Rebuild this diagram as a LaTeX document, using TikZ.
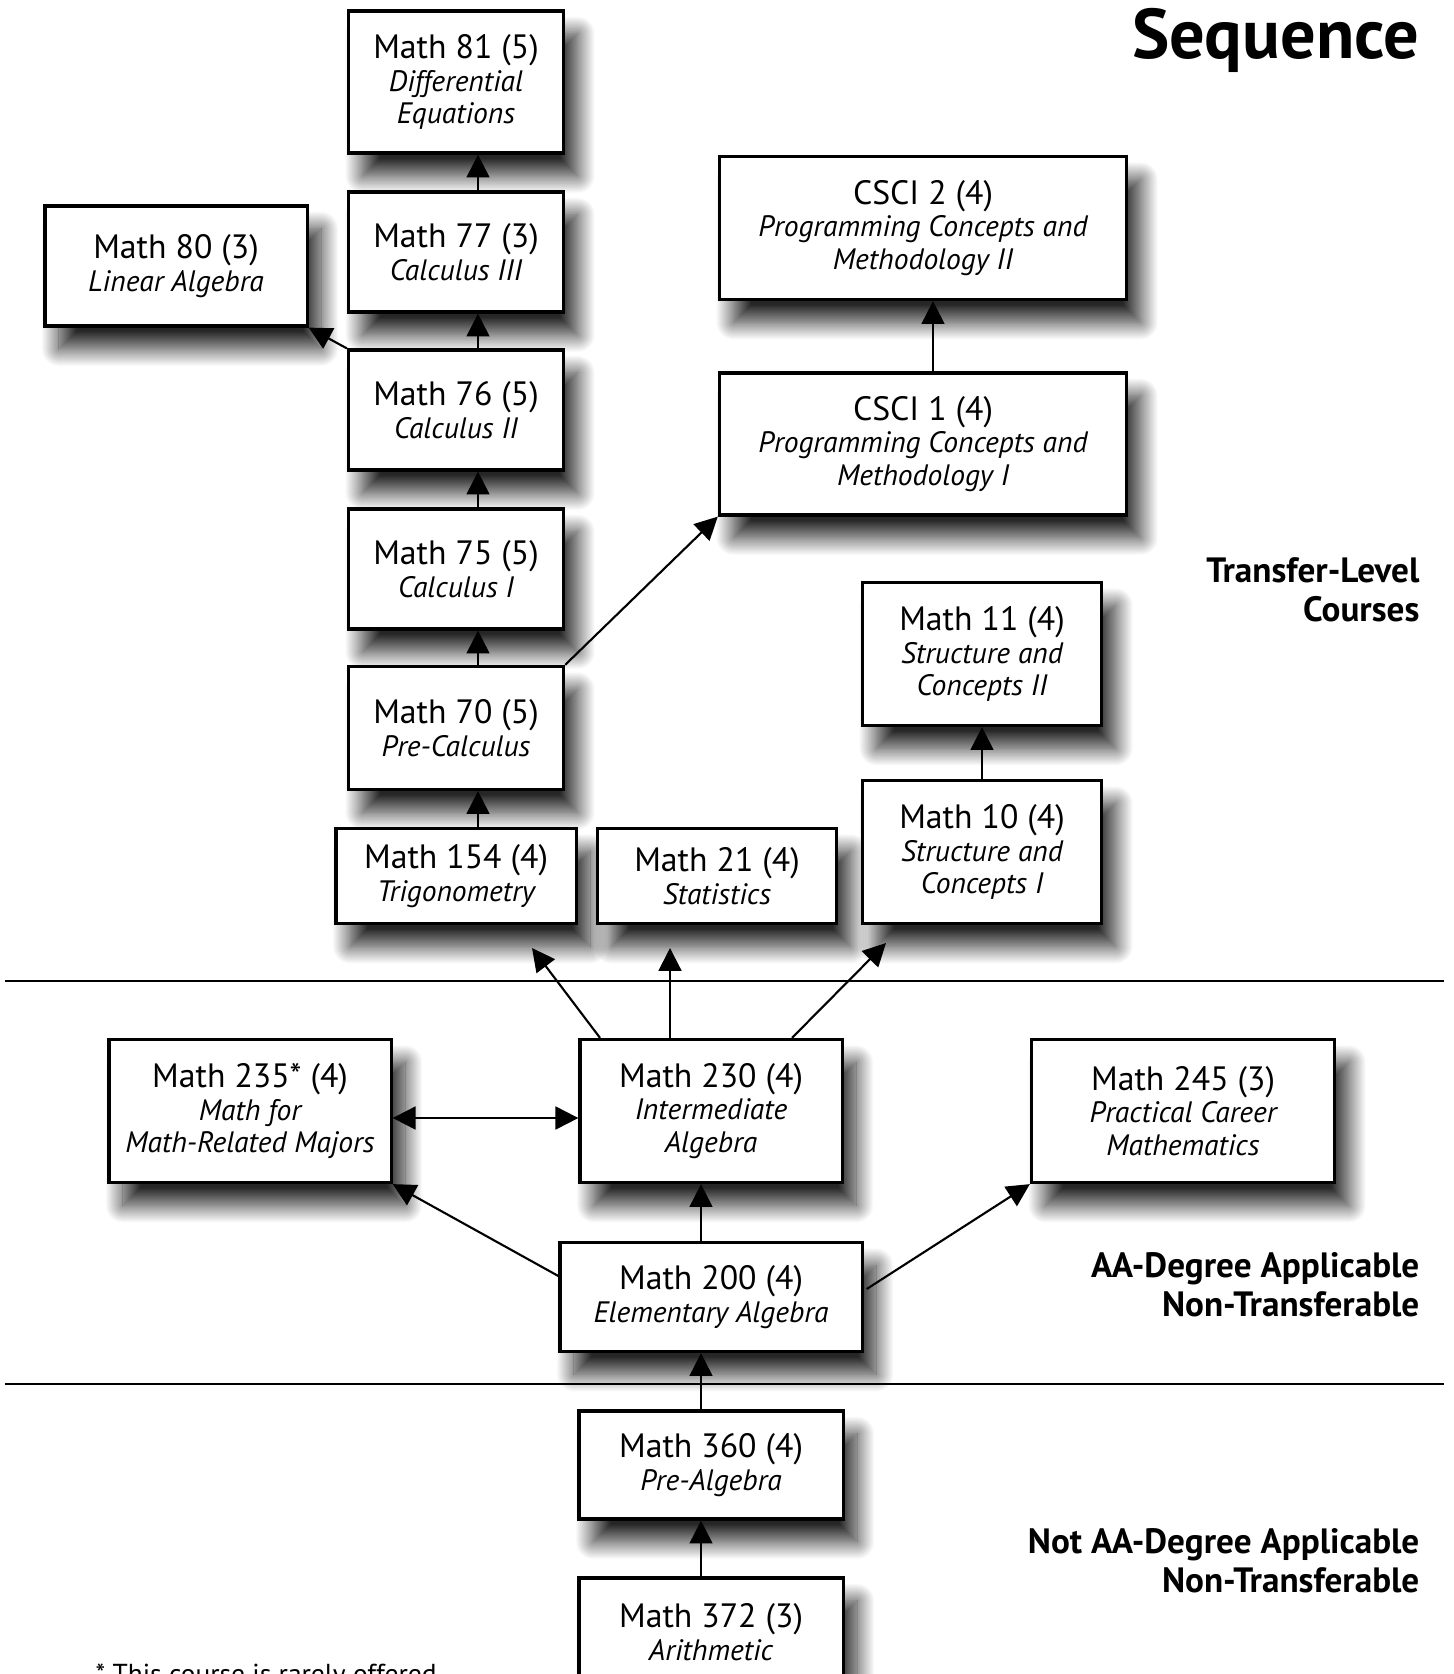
\documentclass[tikz,border=0pt]{standalone}
\usepackage{fontspec}
\setmainfont{PT Sans}
\usetikzlibrary{arrows.meta,positioning,calc,shadows.blur}
\newcommand{\ctitle}{\fontsize{9.6}{9.4}\selectfont}
\newcommand{\csub}{\fontsize{8.4}{9.2}\selectfont\itshape}
\tikzset{
  course/.style={draw,line width=0.9pt,fill=white,align=center,inner sep=0pt,
    font=\fontsize{9}{9.2}\selectfont,
    blur shadow={shadow xshift=4pt,shadow yshift=-6.5pt,shadow blur radius=5pt,shadow blur steps=30,shadow opacity=85}},
  box/.style 2 args={minimum width=#1,minimum height=#2},
  head/.style={anchor=east,align=right,inner sep=0pt,font=\fontsize{10}{11}\selectfont\bfseries},
  arr/.style={-{Triangle[length=6.5pt,width=6.5pt]},line width=0.6pt},
  rule/.style={line width=0.6pt}
}

\begin{document}
\begin{tikzpicture}[x=0.01cm,y=-0.01cm]
    \useasboundingbox (0,0) rectangle (1453,1674);

    % Level rules
    \draw[rule] (5,981) -- (1444,981);
    \draw[rule] (5,1384) -- (1444,1384);

    % Level headings
    \node[head] (hseq) at (1420,40) {\fontsize{20}{21}\selectfont Sequence};
    \node[head] (htransfer) at (1420,590) {Transfer-Level\\Courses};
    \node[head] (haa) at (1420,1285) {AA-Degree Applicable\\Non-Transferable};
    \node[head] (hnot) at (1420,1561) {Not AA-Degree Applicable\\Non-Transferable};

    % Calculus column
    \node[course,box={2.15cm}{1.42cm}] (m81) at (456,82) {\ctitle Math 81 (5)\\\csub Differential\\\csub Equations};
    \node[course,box={2.15cm}{1.20cm}] (m77) at (456,252) {\ctitle Math 77 (3)\\\csub Calculus III};
    \node[course,box={2.62cm}{1.20cm}] (m80) at (176,266) {\ctitle Math 80 (3)\\\csub Linear Algebra};
    \node[course,box={2.15cm}{1.20cm}] (m76) at (456,410) {\ctitle Math 76 (5)\\\csub Calculus II};
    \node[course,box={2.15cm}{1.20cm}] (m75) at (456,569) {\ctitle Math 75 (5)\\\csub Calculus I};
    \node[course,box={2.15cm}{1.23cm}] (m70) at (456,728) {\ctitle Math 70 (5)\\\csub Pre-Calculus};
    \node[course,box={2.40cm}{0.95cm}] (m154) at (456,876) {\ctitle Math 154 (4)\\\csub Trigonometry};
    \node[course,box={2.39cm}{0.95cm}] (m21) at (717,876) {\ctitle Math 21 (4)\\\csub Statistics};

    % Structure and programming
    \node[course,box={2.39cm}{1.43cm}] (m10) at (982,852) {\ctitle Math 10 (4)\\\csub Structure and\\\csub Concepts I};
    \node[course,box={2.39cm}{1.43cm}] (m11) at (982,654) {\ctitle Math 11 (4)\\\csub Structure and\\\csub Concepts II};
    \node[course,box={4.07cm}{1.42cm}] (cs1) at (923,444) {\ctitle CSCI 1 (4)\\\csub Programming Concepts and\\\csub Methodology I};
    \node[course,box={4.07cm}{1.43cm}] (cs2) at (923,228) {\ctitle CSCI 2 (4)\\\csub Programming Concepts and\\\csub Methodology II};

    % AA-degree level
    \node[course,box={2.82cm}{1.43cm}] (m235) at (250,1111) {\ctitle Math 235* (4)\\\csub Math for\\\csub Math-Related Majors};
    \node[course,box={2.62cm}{1.43cm}] (m230) at (711,1111) {\ctitle Math 230 (4)\\\csub Intermediate\\\csub Algebra};
    \node[course,box={3.03cm}{1.43cm}] (m245) at (1183,1111) {\ctitle Math 245 (3)\\\csub Practical Career\\\csub Mathematics};
    \node[course,box={3.02cm}{1.09cm}] (m200) at (711,1297) {\ctitle Math 200 (4)\\\csub Elementary Algebra};

    % Not AA-degree level
    \node[course,box={2.64cm}{1.08cm}] (m360) at (711,1465) {\ctitle Math 360 (4)\\\csub Pre-Algebra};
    \node[course,box={2.64cm}{1.08cm}] (m372) at (711,1632) {\ctitle Math 372 (3)\\\csub Arithmetic};
    \node[anchor=north west,inner sep=0pt,font=\fontsize{7.8}{9}\selectfont] (fnote) at (95,1663) {* This course is rarely offered};

    % Arrow columns and free tips
    \coordinate (colA) at (478,0);
    \coordinate (colB) at (701,0);
    \coordinate (colC) at (933,0);
    \coordinate (t154) at (532,948);
    \coordinate (t21) at (670,948);
    \coordinate (t10) at (886,943);

    \foreach \a/\b in {m154/m70,m70/m75,m75/m76,m76/m77,m77/m81} {
        \draw[arr] (\a.north -| colA) -- (\b.south -| colA);
    }
    \foreach \a/\b in {m372/m360,m360/m200,m200/m230} {
        \draw[arr] (\a.north -| colB) -- (\b.south -| colB);
    }
    \draw[arr] (cs1.north -| colC) -- (cs2.south -| colC);
    \draw[arr] (m10.north) -- (m11.south);
    \draw[arr] (m76.north west) -- (m80.south east);
    \draw[arr] (m70.north east) -- (cs1.south west);

    % Out of Math 230
    \draw[arr] ($(m230.north)+(-111,0)$) -- (t154);
    \draw[arr] ($(m230.north)+(-41,0)$) -- (t21);
    \draw[arr] ($(m230.north)+(81,0)$) -- (t10);
    \draw[arr,{Triangle[length=6.5pt,width=6.5pt]}-{Triangle[length=6.5pt,width=6.5pt]}] ($(m235.east)+(0,7)$) -- ($(m230.west)+(0,7)$);

    % Out of Math 200
    \draw[arr] ($(m200.west)+(0,-21)$) -- (m235.south east);
    \draw[arr] ($(m200.east)+(3,-8)$) -- (m245.south west);
\end{tikzpicture}
\end{document}
